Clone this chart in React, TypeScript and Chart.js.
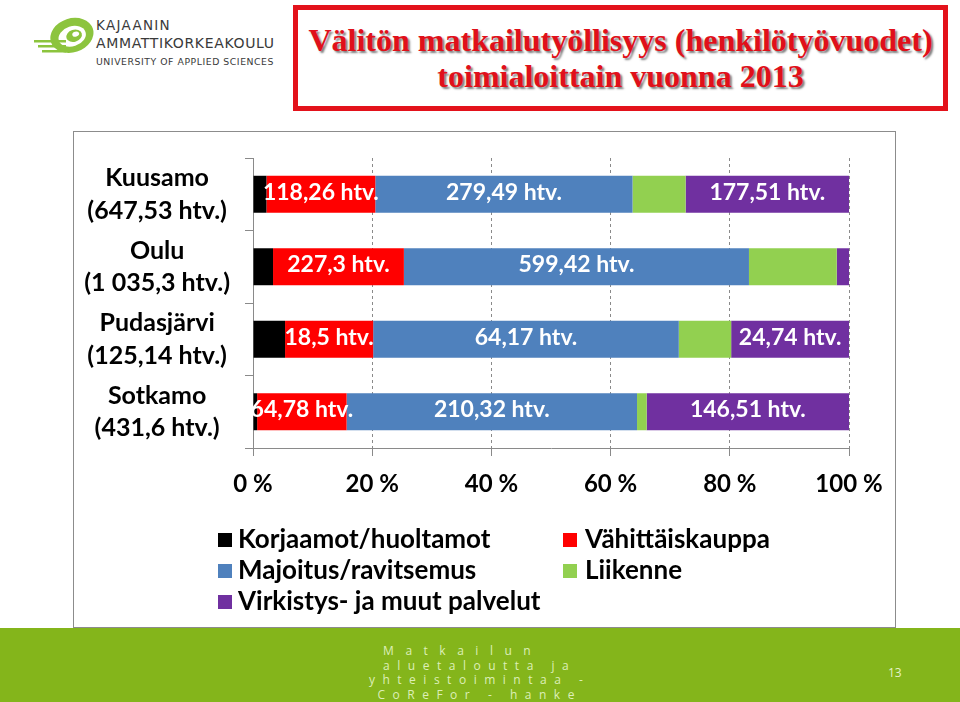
import React, { useEffect, useRef } from "react";
import { Chart, registerables } from "chart.js";
Chart.register(...registerables);

// ---- data (htv. = henkilötyövuodet) ----
const regions = ["Kuusamo", "Oulu", "Pudasjärvi", "Sotkamo"];
const regionTotals = [647.53, 1035.3, 125.14, 431.6];
const seriesNames = [
  "Korjaamot/huoltamot",
  "Vähittäiskauppa",
  "Majoitus/ravitsemus",
  "Liikenne",
  "Virkistys- ja muut palvelut",
];
const korjaamot = [14.6, 34.8, 6.73, 3.0];
const vahittaiskauppa = [118.26, 227.3, 18.5, 64.78];
const majoitus = [279.49, 599.42, 64.17, 210.32];
const liikenne = [57.67, 152.5, 11.0, 6.99];
const virkistys = [177.51, 21.28, 24.74, 146.51];
const seriesColors = ["#000000", "#FF0000", "#4F81BD", "#92D050", "#7030A0"];
const labelledSeries = [false, true, true, false, true];
const xTickStep = 20;

const FONT = "Lato, 'Open Sans', sans-serif";

function fmtFi(v: number): string {
  const [i, d] = String(v).split(".");
  const ii = i.replace(/\B(?=(\d{3})+(?!\d))/g, " ");
  return d ? ii + "," + d : ii;
}

const valueLabels = {
  id: "valueLabels",
  afterDatasetsDraw(chart: any) {
    const ctx = chart.ctx;
    chart.data.datasets.forEach((ds: any, di: number) => {
      if (!ds.showValues) return;
      const meta = chart.getDatasetMeta(di);
      meta.data.forEach((bar: any, i: number) => {
        const { x, base, y } = bar.getProps(["x", "base", "y"], true);
        const w = Math.abs(x - base);
        if (w < 50) return;
        ctx.save();
        ctx.font = `bold 23px ${FONT}`;
        ctx.fillStyle = "#ffffff";
        ctx.textAlign = "center";
        ctx.textBaseline = "middle";
        ctx.fillText(fmtFi(ds.raw[i]) + " htv.", (x + base) / 2, y - 2);
        ctx.restore();
      });
    });
  },
};

const customLegend = {
  id: "customLegend",
  afterDraw(chart: any) {
    const ctx = chart.ctx;
    const colSquare = [144, 489];
    const colText = [164, 511];
    const rows = [408, 439, 470];
    chart.data.datasets.forEach((ds: any, i: number) => {
      const col = i % 2;
      const row = Math.floor(i / 2);
      const y = rows[row];
      ctx.save();
      ctx.fillStyle = ds.backgroundColor;
      ctx.fillRect(colSquare[col], y - 7, 14, 14);
      ctx.font = `bold 26px ${FONT}`;
      ctx.fillStyle = "#000";
      ctx.textAlign = "left";
      ctx.textBaseline = "middle";
      ctx.fillText(ds.label, colText[col], y);
      ctx.restore();
    });
  },
};

function BarChart() {
  const ref = useRef<HTMLCanvasElement | null>(null);
  useEffect(() => {
    let chart: Chart | null = null;
    let cancelled = false;
    const make = () => {
      if (cancelled || !ref.current) return;
      const series = [korjaamot, vahittaiskauppa, majoitus, liikenne, virkistys];
      const datasets = series.map((vals, si) => ({
        label: seriesNames[si],
        data: vals.map((v, i) => (v / regionTotals[i]) * 100),
        raw: vals,
        showValues: labelledSeries[si],
        backgroundColor: seriesColors[si],
        borderWidth: 0,
        barPercentage: 0.51,
        categoryPercentage: 1.0,
      }));
      chart = new Chart(ref.current, {
        type: "bar",
        data: {
          labels: regions.map((r, i) => [r, "(" + fmtFi(regionTotals[i]) + " htv.)"]),
          datasets: datasets as any,
        },
        options: {
          indexAxis: "y",
          animation: false,
          responsive: false,
          layout: { padding: { top: 26, right: 46, bottom: 119, left: 0 } },
          plugins: { legend: { display: false }, tooltip: { enabled: false } },
          scales: {
            x: {
              stacked: true,
              min: 0,
              max: 100,
              ticks: {
                stepSize: xTickStep,
                callback: (v: any) => v + " %",
                padding: 14,
                color: "#000",
                font: { family: FONT, weight: "bold", size: 24 },
              },
              grid: {
                color: "#8a8a8a",
                tickColor: "#8a8a8a",
                tickLength: 8,
                tickBorderDash: [],
              },
              border: { display: true, color: "#8a8a8a", dash: [3, 3] },
              afterFit: (s: any) => {
                s.height = 60;
                s.paddingLeft = 0;
                s.paddingRight = 0;
              },
            },
            y: {
              stacked: true,
              grid: {
                display: true,
                drawOnChartArea: false,
                offset: true,
                tickLength: 8,
                color: "#8a8a8a",
                tickColor: "#8a8a8a",
              },
              border: { display: true, color: "#8a8a8a" },
              ticks: {
                crossAlign: "center",
                padding: 15,
                color: "#000",
                font: { family: FONT, weight: "bold", size: 25, lineHeight: 1.3 },
              },
              afterFit: (s: any) => {
                s.width = 179;
                s.paddingTop = 0;
                s.paddingBottom = 0;
              },
            },
          },
        } as any,
        plugins: [valueLabels, customLegend],
      });
    };
    const fonts = (document as any).fonts;
    if (fonts && fonts.load) {
      Promise.all([
        fonts.load(`bold 24px Lato`),
        fonts.load(`bold 30px "Liberation Serif"`),
      ]).then(make, make);
    } else make();
    return () => {
      cancelled = true;
      if (chart) chart.destroy();
    };
  }, []);
  return <canvas ref={ref} width={821} height={495} style={{ display: "block" }} />;
}

function Logo() {
  return (
    <div style={{ position: "absolute", left: 28, top: 8, width: 260, height: 60 }}>
      <svg width="66" height="52" style={{ position: "absolute", left: 2, top: 2 }} viewBox="0 0 66 52">
        <g transform="rotate(-18 40 26)">
          <ellipse cx="42" cy="26" rx="22" ry="17" fill="#8CC43E" />
          <ellipse cx="42" cy="27" rx="14" ry="10" fill="#ffffff" />
          <ellipse cx="44" cy="27" rx="8" ry="6" fill="#8CC43E" />
          <ellipse cx="46" cy="26" rx="3.5" ry="2.5" fill="#ffffff" />
        </g>
        <rect x="4" y="30" width="32" height="2.5" fill="#8CC43E" />
        <rect x="8" y="35" width="28" height="2.5" fill="#8CC43E" />
        <rect x="12" y="40" width="24" height="2.5" fill="#8CC43E" />
      </svg>
      <div
        style={{
          position: "absolute",
          left: 68,
          top: 11,
          fontFamily: "'DejaVu Sans', sans-serif",
          color: "#3a3a3a",
          lineHeight: 1,
          whiteSpace: "nowrap",
        }}
      >
        <div style={{ fontSize: 13.5, letterSpacing: 1.3 }}>KAJAANIN</div>
        <div style={{ fontSize: 14, letterSpacing: 0.65, marginTop: 3 }}>AMMATTIKORKEAKOULU</div>
        <div style={{ fontSize: 9.3, letterSpacing: 0.55, marginTop: 7 }}>UNIVERSITY OF APPLIED SCIENCES</div>
      </div>
    </div>
  );
}

export default function App() {
  const footerLines = [
    "M a t k a i l u n",
    "a l u e t a l o u t t a   j a",
    "y h t e i s t o i m i n t a a   -",
    "C o R e F o r   -   h a n k e",
  ];
  return (
    <div
      style={{
        position: "absolute",
        left: 0,
        top: 0,
        width: 960,
        height: 702,
        background: "#ffffff",
        overflow: "hidden",
      }}
    >
      <Logo />
      <div
        style={{
          position: "absolute",
          left: 293,
          top: 5,
          width: 655,
          height: 106,
          boxSizing: "border-box",
          border: "5px solid #E3121B",
          background: "#fff",
          display: "flex",
          flexDirection: "column",
          alignItems: "center",
          justifyContent: "center",
          fontFamily: "'Liberation Serif', 'Times New Roman', serif",
          fontWeight: "bold",
          fontSize: 32,
          lineHeight: "36px",
          color: "#E0101A",
          textShadow: "2px 2px 2px rgba(0,0,0,0.5)",
          whiteSpace: "nowrap",
        }}
      >
        <div>Välitön matkailutyöllisyys (henkilötyövuodet)</div>
        <div>toimialoittain vuonna 2013</div>
      </div>
      <div
        style={{
          position: "absolute",
          left: 73,
          top: 131,
          width: 823,
          height: 497,
          boxSizing: "border-box",
          border: "1px solid #8c8c8c",
          background: "#fff",
        }}
      >
        <BarChart />
      </div>
      <div
        style={{
          position: "absolute",
          left: 0,
          top: 628,
          width: 960,
          height: 74,
          background: "#84B51B",
        }}
      >
        <div
          style={{
            position: "absolute",
            left: 360,
            top: 16,
            width: 234,
            textAlign: "center",
            fontFamily: "'Open Sans', sans-serif",
            fontSize: 12,
            lineHeight: "14.5px",
            letterSpacing: 2.2,
            color: "#DDEFB8",
            whiteSpace: "pre",
          }}
        >
          {footerLines.map((l, i) => (
            <div key={i} style={i === 0 ? { letterSpacing: 4.2, marginRight: 36 } : undefined}>
              {l}
            </div>
          ))}
        </div>
        <div
          style={{
            position: "absolute",
            left: 888,
            top: 36,
            fontFamily: "'Open Sans', sans-serif",
            fontSize: 12,
            color: "#E4F2C8",
          }}
        >
          13
        </div>
      </div>
    </div>
  );
}
